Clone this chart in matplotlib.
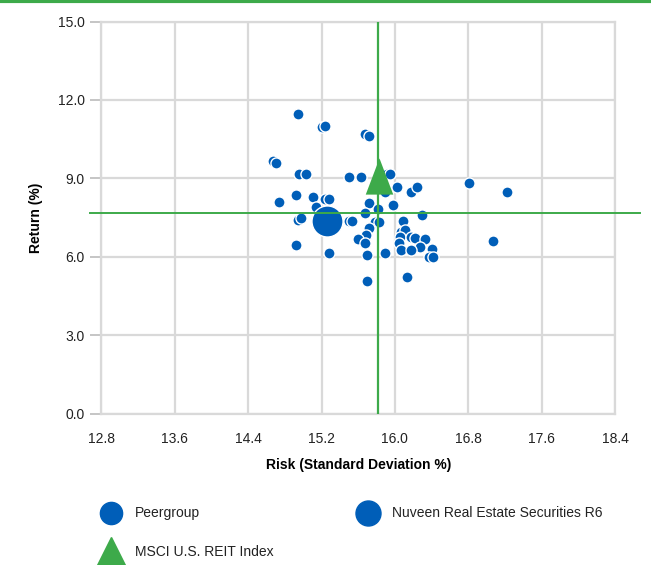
import matplotlib
matplotlib.use('Agg')
import matplotlib.pyplot as plt
from matplotlib.lines import Line2D
from matplotlib import font_manager

# risk / return data
peer_risk = [14.94, 15.21, 15.24, 15.67, 15.72, 14.67, 14.70, 14.95, 15.03, 15.50,
             15.63, 15.91, 15.95, 14.74, 14.92, 15.11, 15.24, 15.28, 15.14, 14.94,
             14.98, 15.50, 15.53, 14.92, 15.28, 15.72, 15.67, 15.81, 15.78, 15.83,
             15.72, 15.69, 15.60, 15.67, 15.70, 15.89, 15.70, 15.98, 15.89, 16.02,
             16.18, 16.24, 16.30, 16.09, 16.07, 16.11, 16.06, 16.04, 16.07, 16.18,
             16.22, 16.33, 16.27, 16.18, 16.40, 16.37, 16.41, 16.13, 16.81, 17.22,
             17.07]
peer_return = [11.46, 10.95, 11.00, 10.71, 10.63, 9.66, 9.58, 9.18, 9.18, 9.05,
               9.05, 9.18, 9.17, 8.11, 8.35, 8.27, 8.21, 8.21, 7.91, 7.41,
               7.47, 7.37, 7.35, 6.45, 6.15, 8.04, 7.66, 7.83, 7.34, 7.34,
               7.11, 6.83, 6.67, 6.51, 6.07, 6.15, 5.08, 7.98, 8.49, 8.68,
               8.49, 8.66, 7.60, 7.37, 6.96, 7.02, 6.74, 6.54, 6.26, 6.74,
               6.70, 6.67, 6.38, 6.26, 6.28, 5.98, 5.98, 5.24, 8.81, 8.49,
               6.60]
fund_risk, fund_return = 15.26, 7.36
index_risk, index_return = 15.83, 9.10
ref_risk, ref_return = 15.82, 7.66

x_ticks = [12.8, 13.6, 14.4, 15.2, 16.0, 16.8, 17.6, 18.4]
y_ticks = [0.0, 3.0, 6.0, 9.0, 12.0, 15.0]

blue = '#005EB8'
green = '#3DAA4A'
grid = '#D9D9D9'

names = {f.name for f in font_manager.fontManager.ttflist}
fam = 'Liberation Sans Narrow' if 'Liberation Sans Narrow' in names else 'Liberation Sans'
plt.rcParams['font.family'] = [fam, 'DejaVu Sans']

fig = plt.figure(figsize=(6.51, 5.65), dpi=100)
ax = fig.add_axes([0.1559, 0.2681, 0.7888, 0.6938])

# slightly tall triangle like the original
tri = [(0, 0.5), (-0.38, -0.5), (0.38, -0.5)]

ax.scatter(peer_risk, peer_return, s=64, c=blue, edgecolors='white', linewidths=1.0, zorder=3)
ax.scatter([fund_risk], [fund_return], s=500, c=blue, edgecolors='white', linewidths=1.0, zorder=4)
ax.axvline(ref_risk, color=green, lw=1.6, zorder=5)
ax.axhline(ref_return, xmin=-0.022, xmax=1.049, color=green, lw=1.4, zorder=5, clip_on=False)
ax.scatter([index_risk], [index_return], s=680, marker=tri, c=green, linewidths=0, zorder=6)

ax.set_xlim(12.8, 18.4)
ax.set_ylim(0, 15)
ax.set_xticks(x_ticks)
ax.set_yticks(y_ticks)
ax.set_xticklabels([f'{v:.1f}' for v in x_ticks])
ax.set_yticklabels([f'{v:.1f}' for v in y_ticks])
ax.grid(True, color=grid, lw=1.6, zorder=0)
for s in ax.spines.values():
    s.set_color(grid)
    s.set_linewidth(1.6)
ax.tick_params(axis='x', length=0, pad=13, labelsize=10, colors='#222222')
ax.tick_params(axis='y', length=8, width=1.2, color='#BBBBBB', pad=4, labelsize=10, colors='#222222')

ax.set_xlabel('Risk (Standard Deviation %)', fontsize=10, fontweight='bold', labelpad=9)
ax.set_ylabel('Return (%)', fontsize=10, fontweight='bold', labelpad=11)

# top rule
fig.add_artist(Line2D([0, 1], [0.998, 0.998], transform=fig.transFigure, color=green, lw=3))

# legend drawn by hand
def leg(xp, yp, marker, size, color, label):
    fig.add_artist(Line2D([xp / 651], [1 - yp / 565], transform=fig.transFigure,
                          marker=marker, markersize=size, color=color, lw=0))
    fig.text(135 / 651 if xp < 200 else 392 / 651, 1 - yp / 565, label,
             fontsize=10, va='center', ha='left', color='#222222')

leg(111, 513, 'o', 16, blue, 'Peergroup')
leg(368, 513, 'o', 18, blue, 'Nuveen Real Estate Securities R6')
leg(111, 552, '^', 22, green, 'MSCI U.S. REIT Index')

fig.savefig('out.png', dpi=100)
